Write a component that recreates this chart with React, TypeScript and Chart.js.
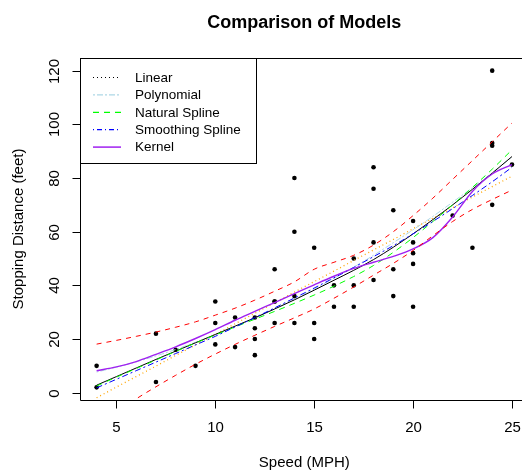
import { useEffect, useRef } from "react";
import { Chart, registerables } from "chart.js";

Chart.register(...registerables);

// Observed data (speed in MPH, stopping distance in feet)
const carSpeed = [4, 4, 7, 7, 8, 9, 10, 10, 10, 11, 11, 12, 12, 12, 12, 13, 13, 13, 13, 14, 14, 14, 14, 15, 15, 15, 16, 16, 17, 17, 17, 18, 18, 18, 18, 19, 19, 19, 20, 20, 20, 20, 20, 22, 23, 24, 24, 24, 24, 25];
const carDist = [2, 10, 4, 22, 16, 10, 18, 26, 34, 17, 28, 14, 20, 24, 28, 26, 34, 34, 46, 26, 36, 60, 80, 20, 26, 54, 32, 40, 32, 40, 50, 42, 56, 76, 84, 36, 46, 68, 32, 48, 52, 56, 64, 66, 54, 70, 92, 93, 120, 85];

// Fitted curves at speeds 4..25
const fitSpeed = [4, 5, 6, 7, 8, 9, 10, 11, 12, 13, 14, 15, 16, 17, 18, 19, 20, 21, 22, 23, 24, 25];
const linearFit = [-1.9, 2.1, 6.0, 9.9, 13.9, 17.8, 21.7, 25.7, 29.6, 33.5, 37.5, 41.4, 45.3, 49.3, 53.2, 57.1, 61.1, 65.0, 68.9, 72.9, 76.8, 80.7];
const polyFit = [7.7, 9.5, 11.5, 13.7, 16.1, 18.8, 21.6, 24.6, 27.8, 31.2, 34.8, 38.6, 42.6, 46.8, 51.2, 55.9, 60.7, 65.7, 71.0, 76.4, 82.0, 87.8];
const centerFit = [2.8, 6.0, 9.2, 12.4, 15.5, 18.6, 21.7, 24.8, 27.9, 31.2, 34.6, 38.2, 41.9, 45.6, 49.6, 54.2, 59.2, 64.5, 70.0, 75.8, 81.8, 88.0];
const naturalSplineFit = [2.5, 5.8, 9.0, 12.2, 15.4, 18.5, 21.5, 24.5, 27.4, 30.3, 33.3, 36.4, 39.7, 43.3, 47.4, 52.3, 57.8, 63.8, 70.0, 76.5, 83.3, 90.5];
const smoothingSplineFit = [1.8, 5.0, 8.2, 11.4, 14.6, 17.8, 21.0, 24.5, 28.0, 31.6, 35.3, 39.0, 42.8, 46.7, 50.7, 54.8, 59.2, 63.8, 68.6, 73.5, 78.6, 84.0];
const kernelFit = [8.2, 9.6, 11.6, 14.3, 17.1, 20.2, 23.5, 27.0, 30.3, 33.6, 36.9, 40.2, 43.4, 46.3, 48.6, 50.8, 53.6, 57.8, 65.5, 75.0, 81.5, 85.0];
const upperBand = [18.1, 19.5, 21.0, 22.6, 24.4, 26.4, 28.9, 31.5, 34.5, 37.8, 41.3, 46.0, 48.6, 51.2, 55.0, 60.0, 66.0, 72.5, 79.5, 86.5, 93.5, 100.5];
const lowerBand = [-12.4, -7.2, -2.3, 2.2, 6.5, 10.6, 14.4, 18.0, 21.4, 24.7, 27.9, 31.2, 35.2, 39.4, 43.8, 48.2, 53.0, 58.5, 63.8, 68.3, 72.0, 75.5];

const xTicks = [5, 10, 15, 20, 25];
const yTicks = [0, 20, 40, 60, 80, 100, 120];

const legendLabels = ["Linear", "Polynomial", "Natural Spline", "Smoothing Spline", "Kernel"];
const legendColors = ["#000000", "#ADD8E6", "#00FF00", "#0000FF", "#A020F0"];
const legendDashes: number[][] = [[1, 3], [2, 2, 6, 2], [6, 5], [1, 3, 5, 3], []];

const FONT = '"Liberation Sans", Arial, Helvetica, sans-serif';

const toXY = (xs: number[], ys: number[]) => xs.map((x, i) => ({ x, y: ys[i] }));

const decorPlugin = {
  id: "decor",
  afterDraw(chart: any) {
    const ctx: CanvasRenderingContext2D = chart.ctx;
    const { left, right, top, bottom } = chart.chartArea;
    const xs = chart.scales.x;
    const ys = chart.scales.y;
    ctx.save();
    ctx.strokeStyle = "#000";
    ctx.fillStyle = "#000";
    ctx.lineWidth = 1;
    ctx.setLineDash([]);

    // plot box
    const L = Math.round(left) + 0.5;
    const T = Math.round(top) + 0.5;
    const B = Math.round(bottom) + 0.5;
    const R = Math.round(right) + 0.5;
    ctx.beginPath();
    ctx.moveTo(L, T);
    ctx.lineTo(R, T);
    ctx.lineTo(R, B);
    ctx.lineTo(L, B);
    ctx.closePath();
    ctx.stroke();

    // x axis
    ctx.font = `15px ${FONT}`;
    ctx.textAlign = "center";
    ctx.textBaseline = "middle";
    for (const t of xTicks) {
      const px = Math.round(xs.getPixelForValue(t)) + 0.5;
      ctx.beginPath();
      ctx.moveTo(px, B);
      ctx.lineTo(px, B + 8);
      ctx.stroke();
      ctx.fillText(String(t), px, bottom + 28);
    }
    // y axis
    for (const t of yTicks) {
      const py = Math.round(ys.getPixelForValue(t)) + 0.5;
      ctx.beginPath();
      ctx.moveTo(L - 8, py);
      ctx.lineTo(L, py);
      ctx.stroke();
      ctx.save();
      ctx.translate(left - 25, py);
      ctx.rotate(-Math.PI / 2);
      ctx.fillText(String(t), 0, 0);
      ctx.restore();
    }

    // title & axis labels
    const cx = (left + right) / 2;
    ctx.font = `bold 18px ${FONT}`;
    ctx.fillText("Comparison of Models", cx, 23);
    ctx.font = `15px ${FONT}`;
    ctx.fillText("Speed (MPH)", cx, 463);
    ctx.save();
    ctx.translate(19, (top + bottom) / 2);
    ctx.rotate(-Math.PI / 2);
    ctx.fillText("Stopping Distance (feet)", 0, 0);
    ctx.restore();

    // legend
    const lx = L;
    const ly = T;
    const lw = 176;
    const lh = 105;
    ctx.fillStyle = "#fff";
    ctx.fillRect(lx, ly, lw, lh);
    ctx.strokeStyle = "#000";
    ctx.strokeRect(lx, ly, lw, lh);
    ctx.font = `13.5px ${FONT}`;
    ctx.textAlign = "left";
    legendLabels.forEach((lab, i) => {
      const y = 77.5 + i * 17.4;
      ctx.strokeStyle = legendColors[i];
      ctx.lineWidth = i === 4 ? 1.5 : 1.2;
      ctx.setLineDash(legendDashes[i]);
      ctx.beginPath();
      ctx.moveTo(93, y);
      ctx.lineTo(121, y);
      ctx.stroke();
      ctx.setLineDash([]);
      ctx.fillStyle = "#000";
      ctx.fillText(lab, 135, y + 0.5);
    });
    ctx.restore();
  },
};

function lineSet(data: number[], color: string, dash: number[], width = 1, order = 1) {
  return {
    type: "scatter" as const,
    data: toXY(fitSpeed, data),
    showLine: true,
    borderColor: color,
    backgroundColor: color,
    borderWidth: width,
    borderDash: dash,
    pointRadius: 0,
    cubicInterpolationMode: "monotone" as const,
    order,
  };
}

export default function App() {
  const ref = useRef<HTMLCanvasElement | null>(null);
  useEffect(() => {
    if (!ref.current) return;
    const chart = new Chart(ref.current, {
      type: "scatter",
      data: {
        datasets: [
          lineSet(upperBand, "#FF0000", [5, 5], 1, 1),
          lineSet(lowerBand, "#FF0000", [5, 5], 1, 1),
          lineSet(kernelFit, "#A020F0", [], 1.4, 2),
          lineSet(smoothingSplineFit, "#0000FF", [6, 3, 2, 3], 1, 3),
          lineSet(naturalSplineFit, "#00FF00", [6, 5], 1, 4),
          lineSet(centerFit, "#000000", [], 1, 5),
          lineSet(polyFit, "#ADD8E6", [2, 2, 6, 2], 1, 6),
          lineSet(linearFit, "#FFA500", [1, 3], 1.3, 7),
          {
            type: "scatter" as const,
            data: toXY(carSpeed, carDist),
            pointRadius: 2.3,
            pointBackgroundColor: "#000",
            pointBorderWidth: 0,
            showLine: false,
            order: 20,
          },
        ] as any,
      },
      options: {
        animation: false,
        responsive: false,
        devicePixelRatio: 1,
        events: [],
        layout: { padding: { left: 80, top: 58, right: 11.4, bottom: 71 } },
        scales: {
          x: { type: "linear", min: 3.16, max: 25.84, display: false },
          y: { type: "linear", min: -2.72, max: 124.72, display: false },
        },
        plugins: { legend: { display: false }, tooltip: { enabled: false }, title: { display: false } },
      },
      plugins: [decorPlugin],
    });
    return () => chart.destroy();
  }, []);
  return (
    <div style={{ position: "absolute", left: 0, top: 0, width: 522, height: 471, overflow: "hidden", background: "#fff" }}>
      <canvas ref={ref} width={540} height={471} style={{ width: 540, height: 471, display: "block" }} />
    </div>
  );
}
